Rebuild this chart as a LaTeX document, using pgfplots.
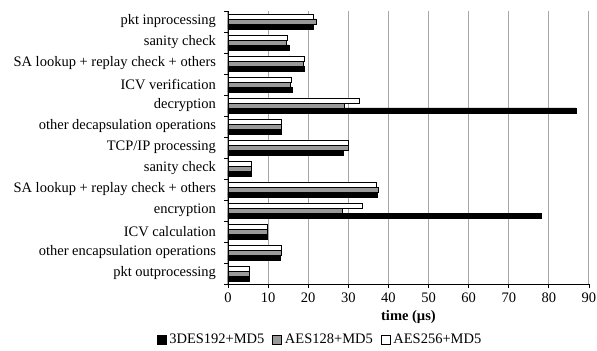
\documentclass[border=0pt]{standalone}
\usepackage{fontspec}
\setmainfont{Liberation Serif}
\usepackage{pgfplots}
\pgfplotsset{compat=1.18}
\begin{document}
\fontsize{14.5bp}{16bp}\selectfont
\begin{tikzpicture}
\useasboundingbox (-228bp,-67bp) rectangle (369bp,284bp);
\begin{axis}[
  at={(0,0)}, anchor=south west,
  scale only axis, width=361bp, height=273bp,
  xbar=0pt, bar width=5bp,
  xmin=0, xmax=90, ymin=-0.5, ymax=12.5,
  xtick={0,10,...,90},
  ytick={0,...,12},
  yticklabels={pkt outprocessing, other encapsulation operations, ICV calculation, encryption, SA lookup + replay check + others, sanity check, TCP/IP processing, other decapsulation operations, decryption, ICV verification, SA lookup + replay check + others, sanity check, pkt inprocessing},
  minor ytick={-0.5,0.5,...,12.5},
  axis lines*=left,
  axis line style={black, line width=0.8pt},
  tick align=outside,
  major tick length=4bp, minor tick length=4bp,
  ytick style={draw=none},
  minor y tick style={draw=black, line width=0.8pt},
  x tick style={black, line width=0.8pt},
  xmajorgrids, grid style={black!35, line width=1pt},
  /pgf/number format/assume math mode=true,
  tick label style={font=\fontsize{14.5bp}{16bp}\selectfont},
  yticklabel style={xshift=-3bp},
  xlabel={\textbf{time (µs)}},
  xlabel style={font=\fontsize{14.5bp}{16bp}\selectfont, yshift=2bp},
  legend columns=3,
  legend style={draw=none, at={(axis description cs:0.255,-0.204)}, anchor=center,
    font=\fontsize{14.5bp}{16bp}\selectfont, inner sep=0pt,
    /tikz/every odd column/.append style={column sep=1bp},
    /tikz/every even column/.append style={column sep=6bp}},
  legend image code/.code={\draw[#1] (0bp,-4.5bp) rectangle (9bp,4.5bp);},
]
\addplot[draw=black, fill=black, line width=0.5pt] coordinates {
(5.3,0) (13.0,1) (9.75,2) (78.1,3) (37.25,4) (5.7,5) (28.8,6) (13.2,7) (86.7,8) (16.0,9) (18.9,10) (15.2,11) (21.25,12)};
\addplot[draw=black, fill=black!40, line width=0.5pt] coordinates {
(5.3,0) (13.2,1) (9.9,2) (28.4,3) (37.5,4) (5.7,5) (29.9,6) (13.2,7) (28.9,8) (15.6,9) (18.75,10) (14.6,11) (22.1,12)};
\addplot[draw=black, fill=white, line width=0.5pt] coordinates {
(5.3,0) (13.2,1) (9.7,2) (33.4,3) (36.9,4) (5.7,5) (30.1,6) (13.25,7) (32.75,8) (15.75,9) (18.9,10) (14.75,11) (21.2,12)};
\legend{3DES192+MD5, AES128+MD5, AES256+MD5}
\end{axis}
\end{tikzpicture}
\end{document}
